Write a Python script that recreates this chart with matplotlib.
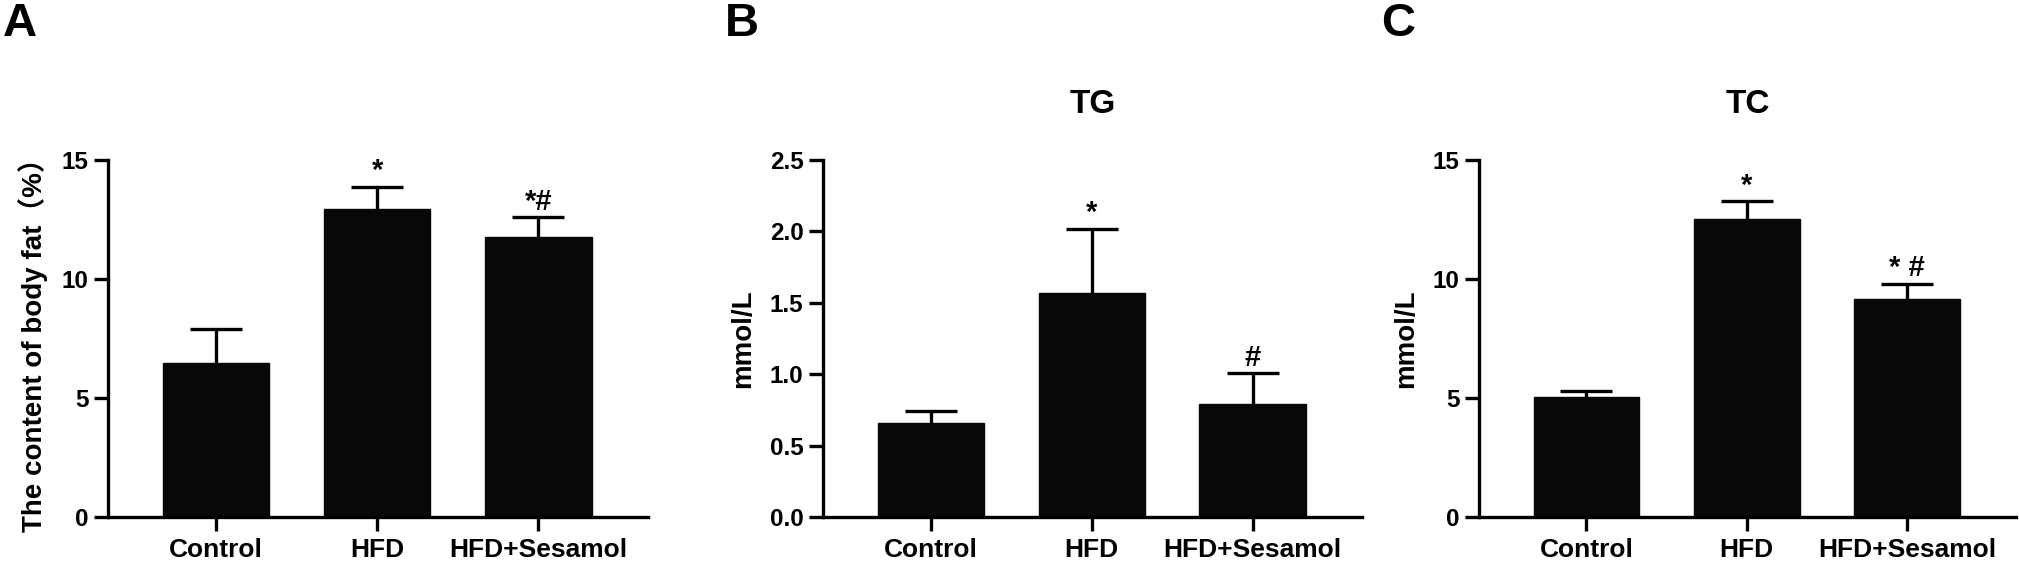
import matplotlib
matplotlib.use("Agg")
import matplotlib.pyplot as plt
import numpy as np

plt.rcParams['font.family'] = ['Liberation Sans', 'Noto Sans CJK SC', 'DejaVu Sans']
plt.rcParams['font.weight'] = 'bold'

categories = ["Control", "HFD", "HFD+Sesamol"]

fat_mean = [6.48, 12.95, 11.78]
fat_err = [1.42, 0.93, 0.81]
fat_marks = ["", "*", "*#"]

tg_mean = [0.66, 1.567, 0.793]
tg_err = [0.083, 0.453, 0.214]
tg_marks = ["", "*", "#"]

tc_mean = [5.04, 12.51, 9.15]
tc_err = [0.24, 0.75, 0.65]
tc_marks = ["", "*", "* #"]

W, H = 2019, 563
fig = plt.figure(figsize=(W / 100, H / 100), dpi=100)

def px_axes(l, r, b, t):
    return fig.add_axes([l / W, (H - b) / H, (r - l) / W, (b - t) / H])

panels = [
    dict(box=(108, 648, 517, 160), mean=fat_mean, err=fat_err, marks=fat_marks,
         ylim=15, ticks=[0, 5, 10, 15], fmt="{:.0f}", ylabel="The content of body fat（%）",
         title=None, letter="A", lx=3),
    dict(box=(823, 1362, 517, 160), mean=tg_mean, err=tg_err, marks=tg_marks,
         ylim=2.5, ticks=[0, 0.5, 1.0, 1.5, 2.0, 2.5], fmt="{:.1f}", ylabel="mmol/L",
         title="TG", letter="B", lx=725),
    dict(box=(1479, 2016, 517, 160), mean=tc_mean, err=tc_err, marks=tc_marks,
         ylim=15, ticks=[0, 5, 10, 15], fmt="{:.0f}", ylabel="mmol/L",
         title="TC", letter="C", lx=1381),
]

lw = 2.4
for p in panels:
    ax = px_axes(*p["box"])
    x = np.arange(len(categories))
    ax.bar(x, p["mean"], width=0.66, color="#080808", edgecolor="#080808", zorder=2)
    eb = ax.errorbar(x, p["mean"], yerr=[np.zeros(len(x)), p["err"]], fmt="none",
                     ecolor="black", elinewidth=lw, capsize=19, capthick=lw, zorder=1)
    caps = eb[1]
    if len(caps) == 2:
        caps[0].set_visible(False)
    for xi, m, e, s in zip(x, p["mean"], p["err"], p["marks"]):
        if s:
            ax.annotate(s, (xi, m + e), xytext=(0, 1), textcoords="offset points",
                        ha="center", va="bottom", fontsize=21, fontweight="bold")
    ax.set_xlim(-0.67, 2.68)
    ax.set_ylim(0, p["ylim"])
    ax.set_yticks(p["ticks"])
    ax.set_yticklabels([p["fmt"].format(t) for t in p["ticks"]])
    ax.set_xticks(x)
    ax.set_xticklabels(categories)
    for sp in ["top", "right"]:
        ax.spines[sp].set_visible(False)
    for sp in ["left", "bottom"]:
        ax.spines[sp].set_linewidth(lw)
    ax.tick_params(axis="both", length=10, width=lw, labelsize=17.5, pad=4)
    ax.tick_params(axis="x", pad=5, labelsize=19)
    for lab in ax.get_xticklabels() + ax.get_yticklabels():
        lab.set_fontweight("bold")
    ax.set_ylabel(p["ylabel"], fontsize=20, fontweight="bold", labelpad=10)
    if p["title"]:
        ax.set_title(p["title"], fontsize=24, fontweight="bold", pad=34)
    fig.text(p["lx"] / W, 1 - 2 / H, p["letter"], fontsize=34, fontweight="bold",
             ha="left", va="top")

fig.savefig("out.png", dpi=100)
